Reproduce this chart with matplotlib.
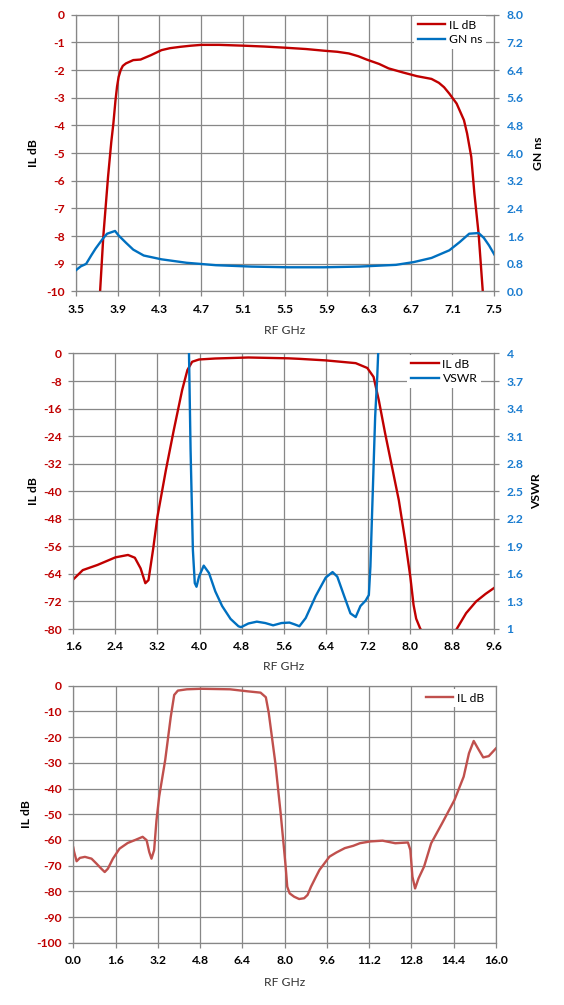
import matplotlib
matplotlib.use("Agg")
import matplotlib.pyplot as plt

plt.rcParams['font.family'] = ['Lato', 'DejaVu Sans']

# ---------------- data ----------------
# Chart 1: passband IL and group delay
top_il_freq = [3.72, 3.733, 3.764, 3.809, 3.84, 3.86, 3.88, 3.895, 3.91, 3.93, 3.95, 3.98, 4.05, 4.12,
               4.22, 4.32, 4.40, 4.50, 4.60, 4.70, 4.87, 5.11, 5.30, 5.49, 5.70, 5.87, 6.00, 6.11,
               6.20, 6.28, 6.40, 6.49, 6.63, 6.76, 6.90, 6.97, 7.02, 7.07, 7.14, 7.21, 7.24, 7.28,
               7.31, 7.35, 7.39, 7.40]
top_il_db = [-10.5, -10.0, -8.0, -5.86, -4.6, -3.93, -3.1, -2.6, -2.25, -2.0, -1.85, -1.76, -1.64, -1.62,
             -1.46, -1.28, -1.21, -1.16, -1.12, -1.09, -1.09, -1.12, -1.15, -1.19, -1.24, -1.30, -1.34, -1.40,
             -1.50, -1.62, -1.78, -1.94, -2.09, -2.22, -2.32, -2.46, -2.62, -2.85, -3.21, -3.81, -4.29, -5.14,
             -6.47, -7.91, -10.0, -10.3]
top_gd_freq = [3.50, 3.55, 3.58, 3.60, 3.65, 3.69, 3.76, 3.80, 3.876, 3.91, 3.98, 4.05, 4.15, 4.32,
               4.56, 4.84, 5.18, 5.53, 5.87, 6.21, 6.56, 6.73, 6.90, 7.07, 7.17, 7.26, 7.35, 7.40,
               7.45, 7.50]
top_gd_ns = [0.61, 0.73, 0.77, 0.80, 1.05, 1.24, 1.53, 1.67, 1.75, 1.62, 1.41, 1.21, 1.04, 0.93,
             0.83, 0.76, 0.72, 0.70, 0.70, 0.72, 0.77, 0.85, 0.97, 1.19, 1.43, 1.67, 1.69, 1.55,
             1.33, 1.07]

# Chart 2: IL and VSWR
mid_il_freq = [1.6, 1.78, 2.06, 2.40, 2.64, 2.77, 2.88, 2.97, 3.03, 3.12, 3.20, 3.36, 3.51, 3.67,
               3.77, 3.86, 3.99, 4.30, 4.93, 5.69, 5.90, 6.40, 6.97, 7.19, 7.31, 7.41, 7.53, 7.66,
               7.79, 7.91, 8.01, 8.07, 8.12, 8.20, 8.30, 8.50, 8.75, 8.85, 8.89, 9.07, 9.26, 9.44, 9.60]
mid_il_db = [-65.6, -62.9, -61.4, -59.2, -58.5, -59.3, -62.4, -66.7, -65.8, -56.6, -47.4, -33.9, -22.3, -10.6,
             -4.8, -2.4, -1.74, -1.45, -1.16, -1.40, -1.55, -2.0, -2.8, -4.2, -6.8, -13.6, -23.2, -32.9,
             -42.6, -54.2, -65.0, -73.0, -77.0, -80.0, -81.5, -82.5, -82.8, -81.0, -80.0, -75.4, -72.0, -69.8, -68.1]
mid_vswr_freq = [3.74, 3.80, 3.83, 3.874, 3.91, 3.943, 3.99, 4.08, 4.18, 4.30, 4.43, 4.59, 4.74, 4.79,
                 4.93, 5.09, 5.25, 5.40, 5.56, 5.71, 5.81, 5.90, 6.02, 6.21, 6.40, 6.53, 6.62, 6.75,
                 6.87, 6.97, 7.06, 7.16, 7.22, 7.25, 7.28, 7.31, 7.34, 7.38, 7.40, 7.45]
mid_vswr = [6.0, 4.0, 2.95, 1.86, 1.50, 1.46, 1.57, 1.69, 1.61, 1.41, 1.25, 1.11, 1.03, 1.02,
            1.06, 1.08, 1.065, 1.04, 1.065, 1.07, 1.05, 1.03, 1.12, 1.36, 1.56, 1.62, 1.57, 1.36,
            1.17, 1.13, 1.25, 1.31, 1.37, 1.68, 2.23, 2.77, 3.31, 3.75, 4.04, 5.5]

# Chart 3: wideband IL
bot_freq = [0.0, 0.025, 0.125, 0.25, 0.44, 0.69, 0.875, 1.06, 1.19, 1.31, 1.50, 1.75, 2.06, 2.375,
            2.625, 2.775, 2.875, 2.96, 3.06, 3.15, 3.25, 3.48, 3.69, 3.82, 3.96, 4.30, 4.84, 5.93,
            6.61, 7.09, 7.29, 7.40, 7.65, 7.85, 7.97, 8.04, 8.10, 8.19, 8.36, 8.55, 8.74, 8.87,
            9.00, 9.19, 9.32, 9.51, 9.70, 9.96, 10.28, 10.60, 10.85, 11.24, 11.71, 12.19, 12.67,
            12.76, 12.84, 12.94, 13.07, 13.28, 13.55, 13.96, 14.43, 14.78, 14.98, 15.16, 15.32,
            15.52, 15.73, 16.0]
bot_db = [-63.0, -64.4, -68.3, -67.0, -66.6, -67.3, -69.2, -71.2, -72.5, -71.2, -67.3, -63.4, -61.2, -59.9,
          -58.8, -60.1, -64.7, -67.3, -64.0, -52.3, -43.2, -28.9, -12.1, -3.6, -1.9, -1.4, -1.2, -1.4,
          -2.2, -2.7, -4.5, -10.6, -30.1, -49.6, -62.6, -70.4, -78.2, -80.8, -82.1, -83.0, -82.7, -81.4,
          -78.2, -74.3, -71.7, -69.1, -66.5, -64.9, -63.2, -62.3, -61.3, -60.6, -60.3, -61.3, -61.0,
          -63.9, -74.3, -78.9, -75.0, -70.4, -61.3, -53.6, -44.5, -35.4, -26.3, -21.5, -24.4,
          -27.9, -27.4, -24.4]

# tick labels
top_xticks = ['3.5', '3.9', '4.3', '4.7', '5.1', '5.5', '5.9', '6.3', '6.7', '7.1', '7.5']
top_yticks = ['0', '-1', '-2', '-3', '-4', '-5', '-6', '-7', '-8', '-9', '-10']
top_y2ticks = ['8.0', '7.2', '6.4', '5.6', '4.8', '4.0', '3.2', '2.4', '1.6', '0.8', '0.0']
mid_xticks = ['1.6', '2.4', '3.2', '4.0', '4.8', '5.6', '6.4', '7.2', '8.0', '8.8', '9.6']
mid_yticks = ['0', '-8', '-16', '-24', '-32', '-40', '-48', '-56', '-64', '-72', '-80']
mid_y2ticks = ['4', '3.7', '3.4', '3.1', '2.8', '2.5', '2.2', '1.9', '1.6', '1.3', '1']
bot_xticks = ['0.0', '1.6', '3.2', '4.8', '6.4', '8.0', '9.6', '11.2', '12.8', '14.4', '16.0']
bot_yticks = ['0', '-10', '-20', '-30', '-40', '-50', '-60', '-70', '-80', '-90', '-100']

# ---------------- style ----------------
RED = '#C00000'
BLUE = '#0070C0'
RED2 = '#C0504D'
BLUE_TXT = '#1A7CD0'
GRID = '#878787'
LW = 1.7
TICK_FS = 8.7
LAB_FS = 8.7

W, H = 564, 1005
fig = plt.figure(figsize=(W / 100, H / 100), dpi=100)


def make_axes(l, r, t, b):
    return fig.add_axes([l / W, 1 - b / H, (r - l) / W, (b - t) / H])


def style_axis(ax, xlabels, ylabels, ycolor):
    xs = [float(s) for s in xlabels]
    ys = [float(s) for s in ylabels]
    ax.set_xlim(xs[0], xs[-1])
    ax.set_ylim(min(ys), max(ys))
    ax.set_xticks(xs)
    ax.set_xticklabels(xlabels)
    ax.set_yticks(ys)
    ax.set_yticklabels(ylabels)
    ax.grid(True, color=GRID, lw=0.9)
    ax.set_axisbelow(True)
    for sp in ax.spines.values():
        sp.set_color(GRID)
        sp.set_linewidth(0.9)
    ax.tick_params(axis='x', length=3.5, width=0.9, color=GRID, pad=5.5,
                   labelsize=TICK_FS, labelcolor='black')
    ax.tick_params(axis='y', length=3.5, width=0.9, color=GRID, pad=4.5,
                   labelsize=TICK_FS, labelcolor=ycolor)
    for lab in ax.get_xticklabels() + ax.get_yticklabels():
        lab.set_fontweight('bold')


def style_right(ax2, ylabels):
    ys = [float(s) for s in ylabels]
    ax2.set_ylim(min(ys), max(ys))
    ax2.set_yticks(ys)
    ax2.set_yticklabels(ylabels)
    for sp in ax2.spines.values():
        sp.set_visible(False)
    ax2.tick_params(axis='y', length=3.5, width=0.9, color=GRID, pad=5.5,
                    labelsize=TICK_FS, labelcolor=BLUE_TXT)
    for lab in ax2.get_yticklabels():
        lab.set_fontweight('bold')


LEG_KW = dict(frameon=True, fancybox=False, framealpha=1, facecolor='white', edgecolor='none',
              fontsize=LAB_FS, handlelength=2.3, handletextpad=0.3, labelspacing=0.3,
              borderpad=0.3, borderaxespad=0)

# ---------- Chart 1 ----------
L1, R1, T1, B1 = 75.7, 494.3, 14.7, 291.5
ax1 = make_axes(L1, R1, T1, B1)
style_axis(ax1, top_xticks, top_yticks, RED)
l_il, = ax1.plot(top_il_freq, top_il_db, color=RED, lw=LW, label='IL dB')
ax1b = ax1.twinx()
style_right(ax1b, top_y2ticks)
l_gd, = ax1b.plot(top_gd_freq, top_gd_ns, color=BLUE, lw=LW, label='GN ns')
ax1.set_xlabel('RF GHz', fontsize=LAB_FS, color='#333333')
ax1.xaxis.set_label_coords(0.5, (B1 - 330) / (B1 - T1))
ax1.xaxis.label.set_va('center')
ax1.set_ylabel('IL dB', fontsize=LAB_FS, fontweight='bold', va='center')
ax1.yaxis.set_label_coords((34 - L1) / (R1 - L1), 0.5)
ax1b.set_ylabel('GN ns', fontsize=LAB_FS, fontweight='bold', va='center', rotation=90)
ax1b.yaxis.set_label_coords((539 - L1) / (R1 - L1), 0.5)
ax1b.legend(handles=[l_il, l_gd], loc='upper right',
            bbox_to_anchor=((486 - L1) / (R1 - L1), (B1 - 16) / (B1 - T1)), **LEG_KW)

# ---------- Chart 2 ----------
L2, R2, T2, B2 = 73.3, 494.0, 353.5, 629.0
ax2 = make_axes(L2, R2, T2, B2)
style_axis(ax2, mid_xticks, mid_yticks, RED)
m_il, = ax2.plot(mid_il_freq, mid_il_db, color=RED, lw=LW, label='IL dB')
ax2b = ax2.twinx()
style_right(ax2b, mid_y2ticks)
m_vs, = ax2b.plot(mid_vswr_freq, mid_vswr, color=BLUE, lw=LW, label='VSWR')
ax2.set_xlabel('RF GHz', fontsize=LAB_FS, color='#333333')
ax2.xaxis.set_label_coords(0.5, (B2 - 667) / (B2 - T2))
ax2.xaxis.label.set_va('center')
ax2.set_ylabel('IL dB', fontsize=LAB_FS, fontweight='bold', va='center')
ax2.yaxis.set_label_coords((33.5 - L2) / (R2 - L2), 0.5)
ax2b.set_ylabel('VSWR', fontsize=LAB_FS, fontweight='bold', va='center', rotation=90)
ax2b.yaxis.set_label_coords((537 - L2) / (R2 - L2), 0.5)
ax2b.legend(handles=[m_il, m_vs], loc='upper right',
            bbox_to_anchor=((481 - L2) / (R2 - L2), (B2 - 355) / (B2 - T2)), **LEG_KW)

# ---------- Chart 3 ----------
L3, R3, T3, B3 = 73.3, 495.9, 685.7, 942.7
ax3 = make_axes(L3, R3, T3, B3)
style_axis(ax3, bot_xticks, bot_yticks, RED)
ax3.tick_params(axis='y', right=False)
b_il, = ax3.plot(bot_freq, bot_db, color=RED2, lw=LW, label='IL dB')
ax3.set_xlabel('RF GHz', fontsize=LAB_FS, color='#333333')
ax3.xaxis.set_label_coords(0.5, (B3 - 982) / (B3 - T3))
ax3.xaxis.label.set_va('center')
ax3.set_ylabel('IL dB', fontsize=LAB_FS, fontweight='bold', va='center')
ax3.yaxis.set_label_coords((26 - L3) / (R3 - L3), 0.5)
ax3.legend(handles=[b_il], loc='upper right',
           bbox_to_anchor=((488 - L3) / (R3 - L3), (B3 - 689) / (B3 - T3)), **LEG_KW)

fig.savefig('out.png', dpi=100, facecolor='white')
